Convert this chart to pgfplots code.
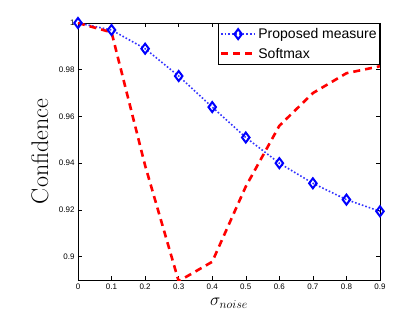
\documentclass[border=0pt]{standalone}
\usepackage{fontspec}
\usepackage{pgfplots}
\pgfplotsset{compat=1.18}
\newfontfamily\helv{Liberation Sans}
\begin{document}
\begin{tikzpicture}[x=1pt,y=1pt]
\path[use as bounding box] (-78,-36) rectangle (342,280);
\begin{axis}[
  at={(0,0)}, anchor=south west,
  scale only axis, width=302pt, height=257pt,
  xmin=0, xmax=0.9, ymin=0.89, ymax=1,
  xtick={0,0.1,0.2,0.3,0.4,0.5,0.6,0.7,0.8,0.9},
  xticklabels={0,0.1,0.2,0.3,0.4,0.5,0.6,0.7,0.8,0.9},
  ytick={0.9,0.92,0.94,0.96,0.98,1},
  yticklabels={0.9,0.92,0.94,0.96,0.98,1},
  scaled y ticks=false, scaled x ticks=false,
  tick align=inside,
  major tick length=4pt,
  tick style={black, line width=0.5pt},
  axis line style={black, line width=0.8pt},
  ticklabel style={font=\helv\fontsize{8}{9}\selectfont},
  /pgf/number format/assume math mode=true,
  xlabel={$\sigma_{noise}$},
  ylabel={Confidence},
  xlabel style={font=\fontsize{17}{18}\selectfont, at={(axis description cs:0.5,0)}, anchor=north, yshift=-15pt},
  ylabel style={font=\fontsize{24}{26}\selectfont, at={(axis description cs:0,0.5)}, anchor=south, yshift=26pt},
  legend style={at={(rel axis cs:1,1)}, anchor=north east, font=\helv\fontsize{14}{15}\selectfont,
    draw=black, line width=0.6pt, inner xsep=1pt, inner ysep=3pt, row sep=4pt, cells={anchor=west}},
  legend cell align=left,
  legend image code/.code={\draw[mark repeat=2,mark phase=2,#1] plot coordinates {(0pt,0pt) (17pt,0pt) (34pt,0pt)};},
  clip=true,
]
\addplot[blue!80, line width=1.6pt, dotted, mark=diamond, mark size=5pt,
  mark options={solid, draw=blue, fill=white, line width=2pt}]
  coordinates {(0,1.0) (0.1,0.997) (0.2,0.989) (0.3,0.9773) (0.4,0.964) (0.5,0.951) (0.6,0.940) (0.7,0.9314) (0.8,0.9244) (0.9,0.9194)};
\addlegendentry{Proposed measure}
\addplot[red, line width=2.6pt, dash pattern=on 7pt off 5pt]
  coordinates {(0,1.0) (0.1,0.996) (0.2,0.939) (0.3,0.8895) (0.4,0.8978) (0.5,0.930) (0.6,0.956) (0.7,0.970) (0.8,0.9785) (0.9,0.9815)};
\addlegendentry{Softmax}
\end{axis}
\end{tikzpicture}
\end{document}
